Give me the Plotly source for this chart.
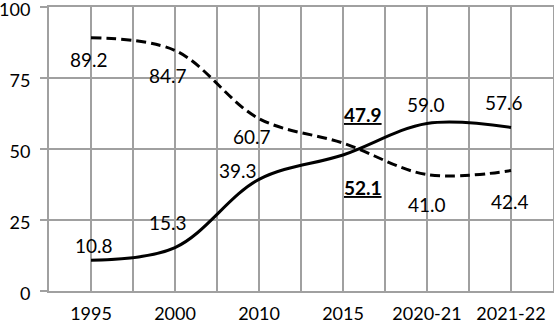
import plotly.graph_objects as go

categories = ["1995", "2000", "2010", "2015", "2020-21", "2021-22"]
solid_values = [10.8, 15.3, 39.3, 47.9, 59.0, 57.6]
dashed_values = [89.2, 84.7, 60.7, 52.1, 41.0, 42.4]
y_ticks = [0, 25, 50, 75, 100]

# label offsets in pixels (style only)
solid_off = [(3, 15), (-7, 25), (-21, 9), (20, 40), (-1, 19), (-7, 25)]
dashed_off = [(-2, -22), (-7, -25), (-7, -18), (20, -44), (0, -30), (-1, -31)]
highlight_idx = 3

FONT = "Lato"
GRID = "#a0a0a0"

xs = list(range(len(categories)))

fig = go.Figure()
fig.add_trace(go.Scatter(x=xs, y=dashed_values, mode="lines",
                         line=dict(color="black", width=3, dash="10px,5px", shape="spline", smoothing=1),
                         hoverinfo="skip", showlegend=False))
fig.add_trace(go.Scatter(x=xs, y=solid_values, mode="lines",
                         line=dict(color="black", width=3, shape="spline", smoothing=1),
                         hoverinfo="skip", showlegend=False))

annotations = []
for vals, offs in ((solid_values, solid_off), (dashed_values, dashed_off)):
    for i, (v, (dx, dy)) in enumerate(zip(vals, offs)):
        txt = f"{v:.1f}"
        if i == highlight_idx:
            txt = f"<b><u>{txt}</u></b>"
        annotations.append(dict(x=i, y=v, xref="x", yref="y", text=txt, showarrow=False,
                                xshift=dx, yshift=dy,
                                font=dict(family=FONT, size=19, color="black")))

tickvals = []
ticktext = []
for i, c in enumerate(categories):
    tickvals += [i - 0.5, i]
    ticktext += ["", c]
tickvals.append(len(categories) - 0.5)
ticktext.append("")

fig.update_layout(
    width=554, height=325,
    margin=dict(l=49, r=1, t=7, b=34, autoexpand=False),
    paper_bgcolor="white", plot_bgcolor="white",
    annotations=annotations,
    font=dict(family=FONT, size=19, color="black"),
    xaxis=dict(range=[-0.5, len(categories) - 0.5], tickmode="array", tickvals=tickvals, ticktext=ticktext,
               showgrid=True, gridcolor=GRID, gridwidth=2, zeroline=False, automargin=False,
               showline=True, linecolor=GRID, linewidth=2, mirror=True,
               ticks="", ticklabelstandoff=5, ticklabeloverflow="allow",
               tickfont=dict(family=FONT, size=18, color="black")),
    yaxis=dict(range=[0, 100], tickmode="array", tickvals=y_ticks, automargin=False,
               showgrid=True, gridcolor=GRID, gridwidth=2, zeroline=False,
               showline=True, linecolor=GRID, linewidth=2, mirror=True,
               ticks="outside", ticklen=7, tickwidth=2, tickcolor=GRID, ticklabelstandoff=6,
               ticklabeloverflow="allow", ticklabelshift=3,
               tickfont=dict(family=FONT, size=18, color="black")),
)

fig.write_html("out.html", config={"displayModeBar": False, "staticPlot": True},
               post_script="document.body.style.margin='0';document.body.style.overflow='hidden';")
